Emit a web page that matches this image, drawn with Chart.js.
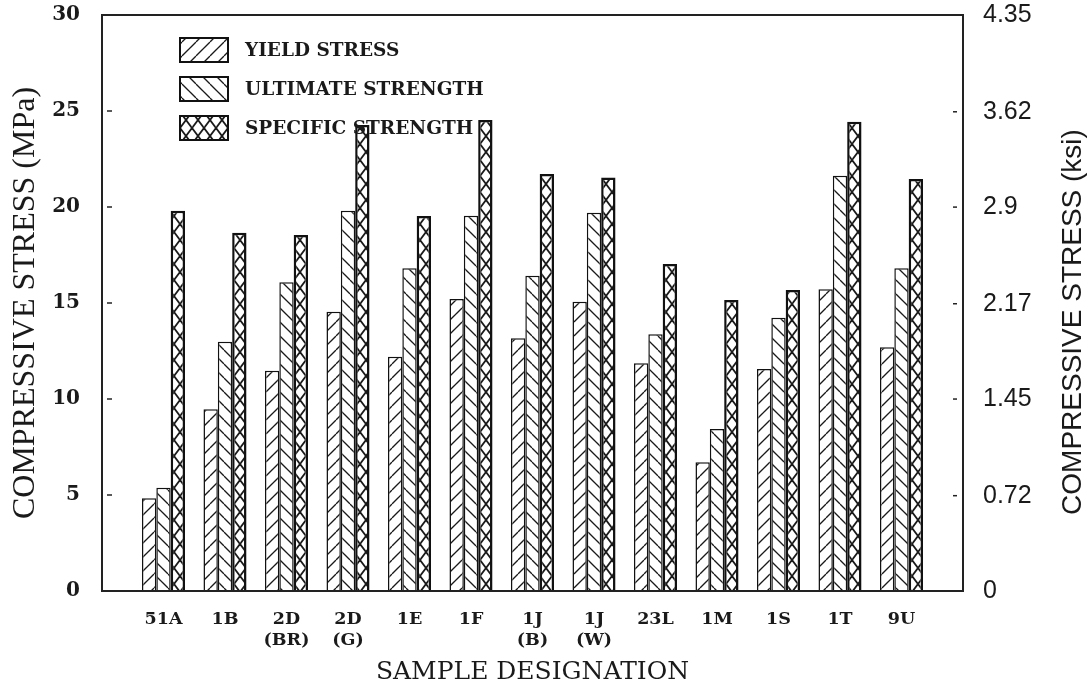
<!DOCTYPE html>
<html><head><meta charset="utf-8">
<script src="https://cdn.jsdelivr.net/npm/chart.js@4.4.0/dist/chart.umd.min.js"></script>
<style>html,body{margin:0;padding:0;background:#fff;} #wrap{width:1091px;height:687px;}</style>
</head><body><div id="wrap"><canvas id="c" width="1091" height="687"></canvas></div>
<script>
const categories = [["51A"],["1B"],["2D","(BR)"],["2D","(G)"],["1E"],["1F"],["1J","(B)"],["1J","(W)"],["23L"],["1M"],["1S"],["1T"],["9U"]];
const seriesNames = ["YIELD STRESS","ULTIMATE STRENGTH","SPECIFIC STRENGTH"];
const yieldStress      = [4.83, 9.46, 11.47, 14.55, 12.2, 15.21, 13.16, 15.07, 11.86, 6.7, 11.56, 15.71, 12.69];
const ultimateStrength = [5.38, 12.98, 16.08, 19.81, 16.81, 19.55, 16.42, 19.7, 13.37, 8.44, 14.23, 21.63, 16.81];
const specificStrength = [19.81, 18.66, 18.54, 24.27, 19.53, 24.53, 21.72, 21.53, 17.03, 15.16, 15.68, 24.44, 21.46];
const mpaTicks = [0,5,10,15,20,25,30];
const ksiTicks = [0,0.72,1.45,2.17,2.9,3.62,4.35];
const MPA_PER_KSI = 6.894757;

const cv = document.getElementById('c');
const ctx = cv.getContext('2d');

function pat(kind){
  const w = kind==='cross'?12:14, h = kind==='cross'?16:14;
  const t = document.createElement('canvas'); t.width=w; t.height=h;
  const g = t.getContext('2d');
  g.fillStyle='#fff'; g.fillRect(0,0,w,h);
  g.strokeStyle='#1a1a1a'; g.lineWidth = kind==='cross'?1.8:1.3;
  const seg=(x1,y1,x2,y2)=>{g.beginPath();g.moveTo(x1,y1);g.lineTo(x2,y2);g.stroke();};
  for(let k=-1;k<=1;k++){
    if(kind==='fwd'||kind==='cross') seg(k*w,h,k*w+w,0);
    if(kind==='back'||kind==='cross') seg(k*w,0,k*w+w,h);
  }
  return ctx.createPattern(t,'repeat');
}
const toPoints = arr => arr.map((v,i)=>({x:i,y:v}));
const TXT = '#1a1a1a';

const framePlugin = {id:'frame', afterDatasetsDraw(chart){
  const {ctx:c, chartArea:a, scales} = chart;
  c.save();
  c.strokeStyle='#222'; c.lineWidth=2;
  c.strokeRect(a.left, a.top, a.right-a.left, a.bottom-a.top);
  c.lineWidth=1.5;
  mpaTicks.forEach(v=>{ if(v===0||v===30) return; const y=scales.y.getPixelForValue(v);
    c.beginPath(); c.moveTo(a.left+5,y); c.lineTo(a.left+10,y); c.stroke(); });
  ksiTicks.forEach(v=>{ if(v===0||v===4.35) return; const y=scales.y2.getPixelForValue(v);
    c.beginPath(); c.moveTo(a.right-10,y); c.lineTo(a.right-6,y); c.stroke(); });
  // legend
  chart.data.datasets.forEach((ds,i)=>{
    const bx=a.left+78, by=a.top+23+i*39, bw=48, bh=24;
    c.fillStyle=ds.backgroundColor; c.fillRect(bx,by,bw,bh);
    c.lineWidth=2; c.strokeStyle='#111'; c.strokeRect(bx,by,bw,bh);
    c.fillStyle=TXT; c.font='bold 18.5px "DejaVu Serif"'; c.textBaseline='middle'; c.textAlign='left';
    c.fillText(ds.label, bx+bw+17, by+bh/2+1);
  });
  // right axis title (reads bottom-to-top)
  const s2 = scales.y2;
  c.save();
  c.translate(s2.right-18, (a.top+a.bottom)/2+19);
  c.rotate(-Math.PI/2);
  c.fillStyle=TXT; c.font='28px "Liberation Sans"'; c.textAlign='center'; c.textBaseline='middle';
  c.fillText('COMPRESSIVE STRESS (ksi)',0,0);
  c.restore();
  c.restore();
}};

const noPad = (s)=>{ s.paddingTop=0; s.paddingBottom=0; };

new Chart(ctx, {
  type:'bar',
  data:{ datasets:[
    {label:seriesNames[0], data:toPoints(yieldStress), backgroundColor:pat('fwd'), borderColor:'#111', borderWidth:1.5, yAxisID:'y'},
    {label:seriesNames[1], data:toPoints(ultimateStrength), backgroundColor:pat('back'), borderColor:'#111', borderWidth:1.5, yAxisID:'y'},
    {label:seriesNames[2], data:toPoints(specificStrength), backgroundColor:pat('cross'), borderColor:'#111', borderWidth:2.5, yAxisID:'y'}
  ]},
  options:{
    responsive:false, animation:false, devicePixelRatio:1,
    layout:{padding:{top:15,left:0,right:0,bottom:0}},
    datasets:{bar:{categoryPercentage:0.7, barPercentage:1.0}},
    plugins:{legend:{display:false}, tooltip:{enabled:false}},
    scales:{
      x:{type:'linear', min:-1, max:13, offset:false,
        grid:{display:false}, border:{display:true,color:'#222',width:2},
        ticks:{stepSize:1, autoSkip:false, maxRotation:0, padding:10, color:TXT,
          font:{family:'DejaVu Serif',weight:'bold',size:17.5},
          callback:(v)=> (Number.isInteger(v) && v>=0 && v<categories.length) ? categories[v] : ''},
        title:{display:true,text:'SAMPLE DESIGNATION', color:TXT, font:{family:'DejaVu Serif',size:25}, padding:{top:0,bottom:0}},
        afterFit:(s)=>{s.height=96; s.paddingLeft=0; s.paddingRight=0;}
      },
      y:{position:'left', min:0, max:30,
        grid:{display:false}, border:{display:true,color:'#222',width:2},
        afterBuildTicks:(s)=>{s.ticks = mpaTicks.map(v=>({value:v}));},
        ticks:{padding:14, color:TXT, font:{family:'DejaVu Serif',weight:'bold',size:20}},
        title:{display:true,text:'COMPRESSIVE STRESS (MPa)', color:TXT, font:{family:'Liberation Serif',size:32}, padding:{top:6,bottom:0}},
        afterFit:(s)=>{s.width=102; noPad(s);}
      },
      y2:{position:'right', min:0, max:30/MPA_PER_KSI,
        grid:{display:false}, border:{display:true,color:'#222',width:2},
        afterBuildTicks:(s)=>{s.ticks = ksiTicks.map(v=>({value:v}));},
        ticks:{padding:12, color:TXT, font:{family:'Liberation Sans',size:25}, callback:(v)=>String(v)},
        afterFit:(s)=>{s.width=128; noPad(s);}
      }
    }
  },
  plugins:[framePlugin]
});
</script></body></html>
